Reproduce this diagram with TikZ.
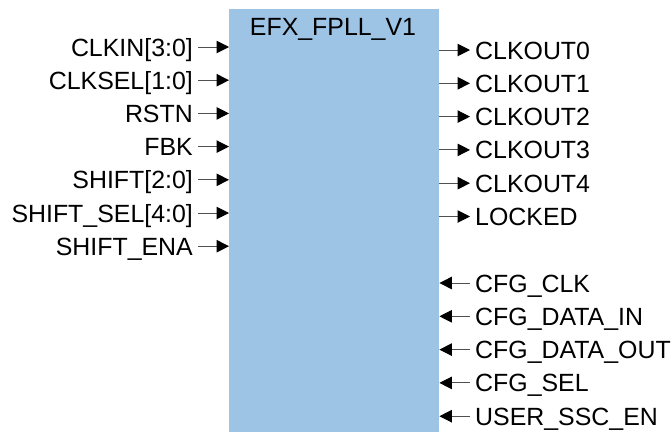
\documentclass[tikz,border=0pt]{standalone}
\usepackage{fontspec}
\setmainfont{Liberation Sans}
\usetikzlibrary{arrows.meta,calc}
\definecolor{pllblue}{RGB}{157,195,229}
\definecolor{wiregray}{RGB}{80,80,80}

\begin{document}
\begin{tikzpicture}[x=1pt, y=-1pt, every node/.style={font=\fontsize{24.9}{28}\selectfont, inner sep=0pt},
	pin/.style={draw=wiregray, line width=1pt, -{Triangle[length=12.5pt,width=12.5pt,color=black]}}]
	\useasboundingbox (0,0) rectangle (672,432);
	\node[fill=pllblue, minimum width=210pt, minimum height=423pt, anchor=north west] (pll) at (229,9) {};
	\node[anchor=base] (ttl) at (333,35) {EFX\_FPLL\_V1};
	% inputs on the left
	\foreach \t [count=\i] in {CLKIN[3:0], CLKSEL[1:0], RSTN, FBK, SHIFT[2:0], SHIFT\_SEL[4:0], SHIFT\_ENA} {
		\node[anchor=base east] (in\i) at (193, 22.8+33.2*\i) {\t};
		\coordinate (ia\i) at ($(in\i.base east)+(5,-9)$);
		\draw[pin] (ia\i) -- (ia\i -| pll.west);
	}
	% outputs on the right
	\foreach \t [count=\i] in {CLKOUT0, CLKOUT1, CLKOUT2, CLKOUT3, CLKOUT4, LOCKED} {
		\node[anchor=base west] (out\i) at (475, 25.7+33.3*\i) {\t};
		\coordinate (oa\i) at ($(out\i.base west)+(-5,-9)$);
		\draw[pin] (oa\i -| pll.east) -- (oa\i);
	}
	% configuration inputs on the right
	\foreach \t [count=\i] in {CFG\_CLK, CFG\_DATA\_IN, CFG\_DATA\_OUT, CFG\_SEL, USER\_SSC\_EN} {
		\node[anchor=base west] (cfg\i) at (475, 258.7+33.3*\i) {\t};
		\coordinate (ca\i) at ($(cfg\i.base west)+(-5,-9)$);
		\draw[pin] (ca\i) -- (ca\i -| pll.east);
	}
\end{tikzpicture}
\end{document}
